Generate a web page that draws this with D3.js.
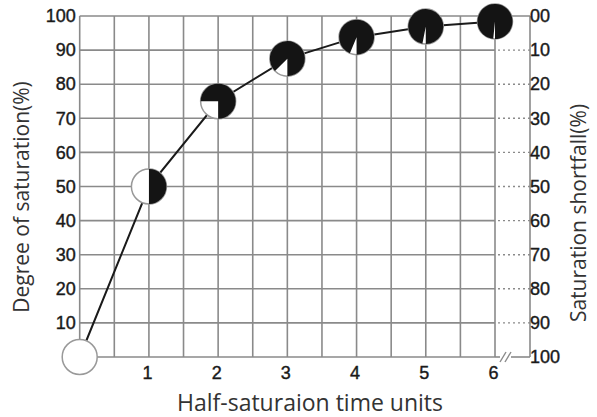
<!DOCTYPE html>
<html>
<head>
<meta charset="utf-8">
<script src="https://d3js.org/d3.v7.min.js"></script>
<style>
  body { margin: 0; background: #fff; }
  .tick text { font-family: "Liberation Sans", Arial, sans-serif; font-size: 18px; fill: #1a1a1a; stroke: #1a1a1a; stroke-width: 0.4px; }
  .title { font-family: "Open Sans", sans-serif; font-size: 21px; fill: #333; }
</style>
</head>
<body>
<div id="chart"></div>
<script>
// values
const halfTimes = [0, 1, 2, 3, 4, 5, 6];
const saturation = [0, 50, 75, 87.5, 93.8, 96.9, 98.4];
const gridX = [0.5, 1, 1.5, 2, 2.5, 3, 3.5, 4, 4.5, 5, 5.5, 6];
const leftTicks = [10, 20, 30, 40, 50, 60, 70, 80, 90, 100];
const xTicks = [1, 2, 3, 4, 5, 6];
const rightLabels = ["00", "10", "20", "30", "40", "50", "60", "70", "80", "90", "100"];

const W = 597, H = 417;
const rightEdge = 530;

const svg = d3.select("#chart").append("svg")
    .attr("width", W).attr("height", H);

const x = d3.scaleLinear().domain([0, 6]).range([79.7, 495]);
const y = d3.scaleLinear().domain([0, 100]).range([357, 16]);

const gridCol = "#8a8a8a";

// horizontal grid lines
svg.append("g").selectAll("line")
    .data(d3.range(0, 101, 10))
    .join("line")
    .attr("x1", x(0)).attr("x2", x(6))
    .attr("y1", d => y(d)).attr("y2", d => y(d))
    .attr("stroke", gridCol).attr("stroke-width", 1.6);

// vertical grid lines
svg.append("g").selectAll("line")
    .data([0].concat(gridX))
    .join("line")
    .attr("x1", d => x(d)).attr("x2", d => x(d))
    .attr("y1", y(0)).attr("y2", y(100))
    .attr("stroke", gridCol).attr("stroke-width", 1.6);

// dotted leaders to the right axis
svg.append("g").selectAll("line")
    .data(d3.range(10, 100, 10))
    .join("line")
    .attr("x1", x(6) + 3).attr("x2", rightEdge)
    .attr("y1", d => y(d)).attr("y2", d => y(d))
    .attr("stroke", gridCol).attr("stroke-width", 1.4)
    .attr("stroke-dasharray", "2,3");

// top border and right axis
svg.append("line").attr("x1", x(6)).attr("x2", rightEdge)
    .attr("y1", y(100)).attr("y2", y(100))
    .attr("stroke", gridCol).attr("stroke-width", 1.6);
svg.append("line").attr("x1", rightEdge).attr("x2", rightEdge)
    .attr("y1", y(100)).attr("y2", y(0))
    .attr("stroke", gridCol).attr("stroke-width", 1.6);

// bottom line with break marks
svg.append("line").attr("x1", x(6)).attr("x2", x(6) + 5)
    .attr("y1", y(0)).attr("y2", y(0))
    .attr("stroke", gridCol).attr("stroke-width", 1.6);
svg.append("line").attr("x1", x(6) + 16).attr("x2", rightEdge)
    .attr("y1", y(0)).attr("y2", y(0))
    .attr("stroke", gridCol).attr("stroke-width", 1.6);
[0, 5].forEach(function(o) {
    svg.append("line")
        .attr("x1", x(6) + 5 + o).attr("y1", y(0) + 5)
        .attr("x2", x(6) + 11 + o).attr("y2", y(0) - 5)
        .attr("stroke", gridCol).attr("stroke-width", 1.4);
});

// left axis labels
let leftAxis = svg.append("g")
    .attr("transform", "translate(" + x(0) + ",0)")
    .call(d3.axisLeft(y).tickValues(leftTicks).tickSize(0).tickPadding(4));
leftAxis.select(".domain").remove();

// right axis labels
let yR = d3.scalePoint().domain(rightLabels).range([y(100), y(0)]);
let rightAxis = svg.append("g")
    .attr("transform", "translate(" + rightEdge + ",0)")
    .call(d3.axisRight(yR).tickSize(0).tickPadding(0));
rightAxis.select(".domain").remove();

// bottom axis labels
let bottomAxis = svg.append("g")
    .attr("transform", "translate(-2," + y(0) + ")")
    .call(d3.axisBottom(x).tickValues(xTicks).tickSize(0).tickPadding(9).tickFormat(d3.format("d")));
bottomAxis.select(".domain").remove();

// curve
let pts = halfTimes.map((t, i) => [t, saturation[i]]);
svg.append("path")
    .datum(pts)
    .attr("d", d3.line().x(d => x(d[0])).y(d => y(d[1])))
    .attr("fill", "none")
    .attr("stroke", "#1a1a1a")
    .attr("stroke-width", 2);

// pie markers: white wedge starts at 6 o'clock
const r = 17.5;
let arc = d3.arc().innerRadius(0).outerRadius(r);
let markers = svg.append("g").selectAll("g")
    .data(pts)
    .join("g")
    .attr("transform", d => "translate(" + x(d[0]) + "," + y(d[1]) + ")");
markers.append("circle")
    .attr("r", r)
    .attr("fill", "#fff")
    .attr("stroke", "#999")
    .attr("stroke-width", 1.5);
markers.filter(d => d[1] > 0).append("path")
    .attr("d", d => arc({startAngle: Math.PI + (1 - d[1] / 100) * 2 * Math.PI, endAngle: 3 * Math.PI}))
    .attr("fill", "#141414");

// titles
svg.append("text").attr("class", "title")
    .attr("transform", "translate(29,197) rotate(-90)")
    .attr("text-anchor", "middle")
    .text("Degree of saturation(%)");
svg.append("text").attr("class", "title")
    .attr("transform", "translate(586,213) rotate(-90)")
    .attr("text-anchor", "middle")
    .text("Saturation shortfall(%)");
svg.append("text").attr("class", "title")
    .attr("x", 310).attr("y", 411)
    .style("font-size", "23px")
    .attr("text-anchor", "middle")
    .text("Half-saturaion time units");
</script>
</body>
</html>
